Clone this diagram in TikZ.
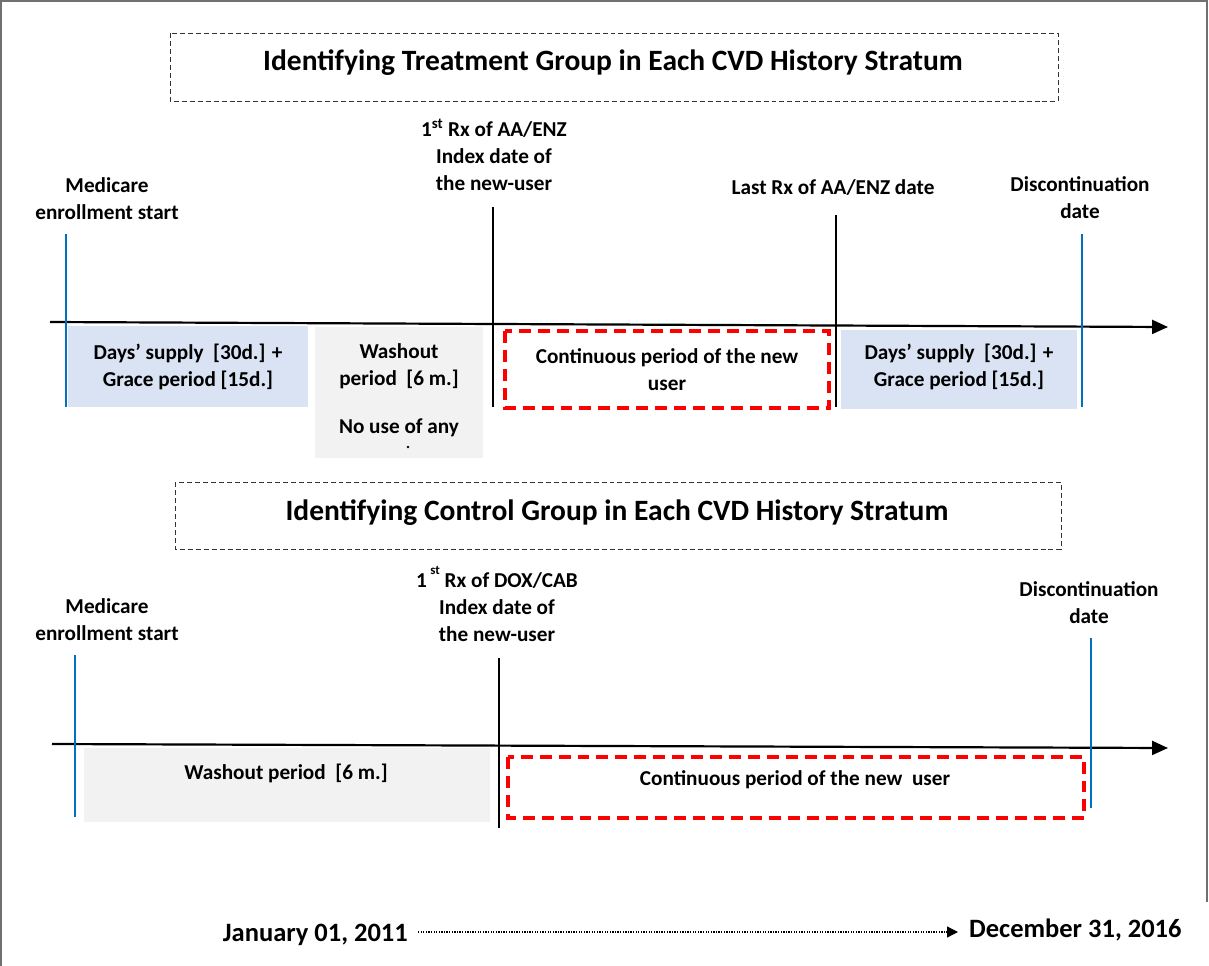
\documentclass[tikz,border=0pt]{standalone}
\usepackage{fontspec}
\setmainfont{Carlito}
\usetikzlibrary{arrows.meta}
\definecolor{lblue}{HTML}{DAE3F3}
\definecolor{lgray}{HTML}{F2F2F2}
\definecolor{mblue}{HTML}{0070C0}
\definecolor{frame}{HTML}{707070}
\tikzset{
  lbl/.style={align=center, font=\bfseries\fontsize{21.3}{27}\selectfont, inner sep=0pt},
  ttl/.style={font=\bfseries\fontsize{29.6}{34}\selectfont, inner sep=0pt},
  ttlbox/.style={draw=black!80, dash pattern=on 5pt off 3pt, line width=0.8pt},
  bluebar/.style={draw=mblue, line width=1.6pt},
  blackbar/.style={draw=black, line width=1.8pt},
  axis/.style={draw=black, line width=2.2pt, -{Triangle[length=16pt,width=14pt]}},
  redbox/.style={draw=red, line width=3.2pt, dash pattern=on 12pt off 7pt},
  datelbl/.style={font=\bfseries\fontsize{26.6}{30}\selectfont, inner sep=0pt},
}
\begin{document}
\begin{tikzpicture}[x=1bp,y=-1bp]
\useasboundingbox (0,0) rectangle (1209,966);
% outer frame
\draw[frame, line width=1.5pt] (1,966) -- (1,1) -- (1207,1) -- (1207,902);

% ===== Treatment group =====
\draw[ttlbox] (170,33) rectangle (1058,101);
\node[ttl] (t1) at (613,63) {Identifying Treatment Group in Each CVD History Stratum};

% boxes
\fill[lblue] (68,326) rectangle (308,407);
\node[lbl] (b1) at (188,367) {Days’ supply\ \ [30d.] +\\Grace period [15d.]};
\begin{scope}
\clip (315,327) rectangle (483,458);
\fill[lgray] (315,327) rectangle (483,458);
\node[lbl] (w1) at (399,390) {Washout\\period\ \ [6 m.]\\[21pt]No use of any};
\fill (408,447) circle (1.4pt);
\end{scope}
\draw[redbox] (505,331) rectangle (829,408);
\node[lbl] (c1) at (667,370) {Continuous period of the new\\user};
\fill[lblue] (841,330) rectangle (1077,409);
\node[lbl] (b2) at (959,367) {Days’ supply\ \ [30d.] +\\Grace period [15d.]};

% axis
\coordinate (a1s) at (50,322);
\coordinate (a1e) at (1168,327);
\draw[axis] (a1s) -- (a1e);

% markers
\coordinate (m1t) at (66,234); \coordinate (m1b) at (66,407);
\draw[bluebar] (m1t) -- (m1b);
\node[lbl] (l1) at (107,199) {Medicare\\enrollment start};

\coordinate (i1t) at (493,207); \coordinate (i1b) at (493,407);
\draw[blackbar] (i1t) -- (i1b);
\node[lbl] (l2) at (494,155) {1\textsuperscript{st} Rx of AA/ENZ\\Index date of\\the new-user};

\coordinate (r1t) at (836,215); \coordinate (r1b) at (836,407);
\draw[blackbar] (r1t) -- (r1b);
\node[lbl] (l3) at (833,188) {Last Rx of AA/ENZ date};

\coordinate (d1t) at (1082,234); \coordinate (d1b) at (1082,407);
\draw[bluebar] (d1t) -- (d1b);
\node[lbl] (l4) at (1080,198) {Discontinuation\\date};

% ===== Control group =====
\draw[ttlbox] (175,482) rectangle (1061,549);
\node[ttl] (t2) at (617,513) {Identifying Control Group in Each CVD History Stratum};

\fill[lgray] (84,748) rectangle (490,822);
\node[lbl] (w2) at (286,773) {Washout period\ \ [6 m.]};
\draw[redbox] (508,757) rectangle (1084,818);
\node[lbl] (c2) at (795,780) {Continuous period of the new\ \ user};

\coordinate (a2s) at (52,744);
\coordinate (a2e) at (1168,748);
\draw[axis] (a2s) -- (a2e);

\coordinate (m2t) at (75,655); \coordinate (m2b) at (75,817);
\draw[bluebar] (m2t) -- (m2b);
\node[lbl] (l5) at (107,620) {Medicare\\enrollment start};

\coordinate (i2t) at (499,658); \coordinate (i2b) at (499,828);
\draw[blackbar] (i2t) -- (i2b);
\node[lbl] (l6) at (497,604) {1\,\raisebox{1.3ex}{\fontsize{13}{13}\selectfont st} Rx of DOX/CAB\\Index date of\\the new-user};

\coordinate (d2t) at (1091,638); \coordinate (d2b) at (1091,808);
\draw[bluebar] (d2t) -- (d2b);
\node[lbl] (l7) at (1089,603) {Discontinuation\\date};

% ===== Bottom =====
\node[datelbl, anchor=east] (jan) at (408,935) {January 01, 2011};
\node[datelbl, anchor=west] (dec) at (969,930) {December 31, 2016};
\draw[line width=1.3pt, dash pattern=on 1.3pt off 1.3pt, -{Triangle[length=11pt,width=11pt]}] (jan.east) ++(10,-3) coordinate (ds) -- (958,932) coordinate (de);
\end{tikzpicture}
\end{document}
